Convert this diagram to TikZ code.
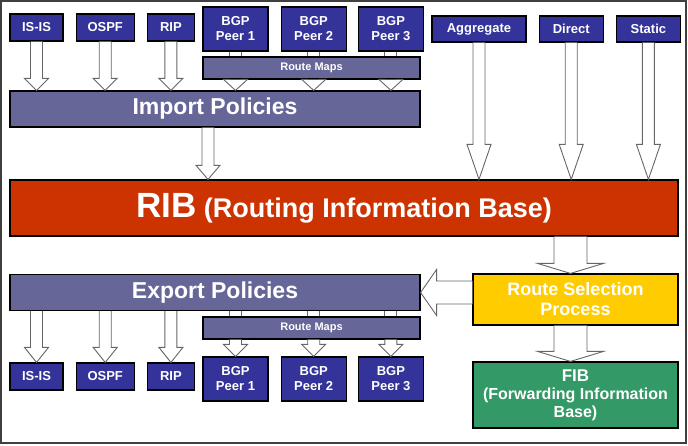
\documentclass[tikz,border=0pt]{standalone}
\usepackage{fontspec}
\setmainfont{Liberation Sans}
\usepackage{tikz}
\usetikzlibrary{positioning,calc}
\definecolor{protoblue}{HTML}{333399}
\definecolor{polgray}{HTML}{666699}
\definecolor{ribred}{HTML}{CC3300}
\definecolor{rsyellow}{HTML}{FFCC00}
\definecolor{fibgreen}{HTML}{339966}
\definecolor{frm}{HTML}{404040}
% hollow block arrows: [shaft half-width]{from}{to}{head length}
\newcommand{\fatdown}[4][6]{%
  \draw[fat] let \p1=(#2), \p2=(#3) in
    (\x1-#1pt,\y1) -- (\x1-#1pt,\y2+#4pt) -- (\x1-2*#1pt,\y2+#4pt) -- (\x1,\y2)
    -- (\x1+2*#1pt,\y2+#4pt) -- (\x1+#1pt,\y2+#4pt) -- (\x1+#1pt,\y1);}
\newcommand{\fatpipe}[3][6]{%
  \draw[fat] let \p1=(#2), \p2=(#3) in
    (\x1-#1pt,\y1) -- (\x1-#1pt,\y2) (\x1+#1pt,\y1) -- (\x1+#1pt,\y2);}
\newcommand{\fatleft}[4][6]{%
  \draw[fat] let \p1=(#2), \p2=(#3) in
    (\x1,\y2+#1pt) -- (\x2+#4pt,\y2+#1pt) -- (\x2+#4pt,\y2+2*#1pt) -- (\x2,\y2)
    -- (\x2+#4pt,\y2-2*#1pt) -- (\x2+#4pt,\y2-#1pt) -- (\x1,\y2-#1pt);}

\begin{document}
\begin{tikzpicture}[
  x=1pt, y=-1pt,
  box/.style={draw=black, line width=1.2pt, text=white, align=center, inner sep=0pt},
  proto/.style={box, fill=protoblue, minimum height=27pt, font=\fontsize{13}{15}\selectfont\bfseries},
  peer/.style={proto, minimum width=65pt, minimum height=44pt},
  pol/.style={box, fill=polgray, minimum width=410pt, minimum height=36pt, font=\fontsize{23}{26}\selectfont\bfseries},
  rmap/.style={box, fill=polgray, minimum width=217pt, minimum height=22pt, font=\fontsize{11}{13}\selectfont\bfseries},
  fat/.style={draw=black!60, fill=white, line width=0.9pt, line join=miter}
]
\useasboundingbox (0,0) rectangle (688,445);
\draw[frm, line width=1.5pt] (1,1) rectangle (686,443);

% import side
\node[proto, minimum width=53pt] (isisI) at (36.5,27.5) {IS-IS};
\node[proto, minimum width=58pt, right=12pt of isisI] (ospfI) {OSPF};
\node[proto, minimum width=47pt, right=12pt of ospfI] (ripI) {RIP};
\node[peer] (bgp1I) at (235.5,29) {BGP\\Peer 1};
\node[peer, right=12pt of bgp1I] (bgp2I) {BGP\\Peer 2};
\node[peer, right=11pt of bgp2I] (bgp3I) {BGP\\Peer 3};
\node[rmap] (rmI) at (311.5,68) {Route Maps};
\node[pol] (imp) at (215,109) {Import Policies};

\node[proto, minimum width=94pt, minimum height=26pt] (aggr) at (479,29) {Aggregate};
\node[proto, minimum width=64pt, minimum height=26pt, right=12pt of aggr] (direct) {Direct};
\node[proto, minimum width=64pt, minimum height=26pt, right=12pt of direct] (static) {Static};

\node[box, fill=ribred, minimum width=668pt, minimum height=56pt, font=\fontsize{27}{30}\selectfont\bfseries] (rib) at (344,208)
  {{\fontsize{35}{38}\selectfont RIB} (Routing Information Base)};

% export side
\node[pol] (exp) at (215,292.5) {Export Policies};
\node[rmap] (rmE) at (311.5,328) {Route Maps};
\node[proto, minimum width=53pt] (isisE) at (36.5,376.5) {IS-IS};
\node[proto, minimum width=58pt, right=12pt of isisE] (ospfE) {OSPF};
\node[proto, minimum width=47pt, right=12pt of ospfE] (ripE) {RIP};
\node[peer] (bgp1E) at (235.5,379) {BGP\\Peer 1};
\node[peer, right=12pt of bgp1E] (bgp2E) {BGP\\Peer 2};
\node[peer, right=11pt of bgp2E] (bgp3E) {BGP\\Peer 3};

\node[box, fill=rsyellow, minimum width=205pt, minimum height=51pt, font=\fontsize{18}{20}\selectfont\bfseries] (rsp) at (575.5,299.5)
  {Route Selection\\Process};
\node[box, fill=fibgreen, minimum width=205pt, minimum height=66pt, font=\fontsize{16}{18}\selectfont\bfseries] (fib) at (575.5,395)
  {{\fontsize{17}{18}\selectfont FIB}\\(Forwarding Information\\Base)};

% arrows
\foreach \s in {isisI,ospfI,ripI} {\fatdown{\s.south}{imp.north}{12}}
\foreach \s in {bgp1I,bgp2I,bgp3I} {
  \fatpipe{\s.south}{rmI.north}
  \fatdown{\s.south |- rmI.south}{imp.north}{11}
}
\foreach \s in {aggr,direct,static} {\fatdown{\s.south}{rib.north}{35}}
\fatdown{$(imp.south)+(-7,0)$}{rib.north}{14}
\fatdown[16.5]{$(rsp.north |- rib.south)+(-5,0)$}{rsp.north}{10}
\fatdown[16.5]{$(rsp.south)+(-5,0)$}{fib.north}{10}
\fatleft[11.5]{rsp.west}{exp.east}{16}
\foreach \s in {isisE,ospfE,ripE} {\fatdown{\s.north |- exp.south}{\s.north}{15}}
\foreach \s in {bgp1E,bgp2E,bgp3E} {
  \fatpipe{\s.north |- exp.south}{\s.north |- rmE.north}
  \fatdown{\s.north |- rmE.south}{\s.north}{12}
}
\end{tikzpicture}
\end{document}
